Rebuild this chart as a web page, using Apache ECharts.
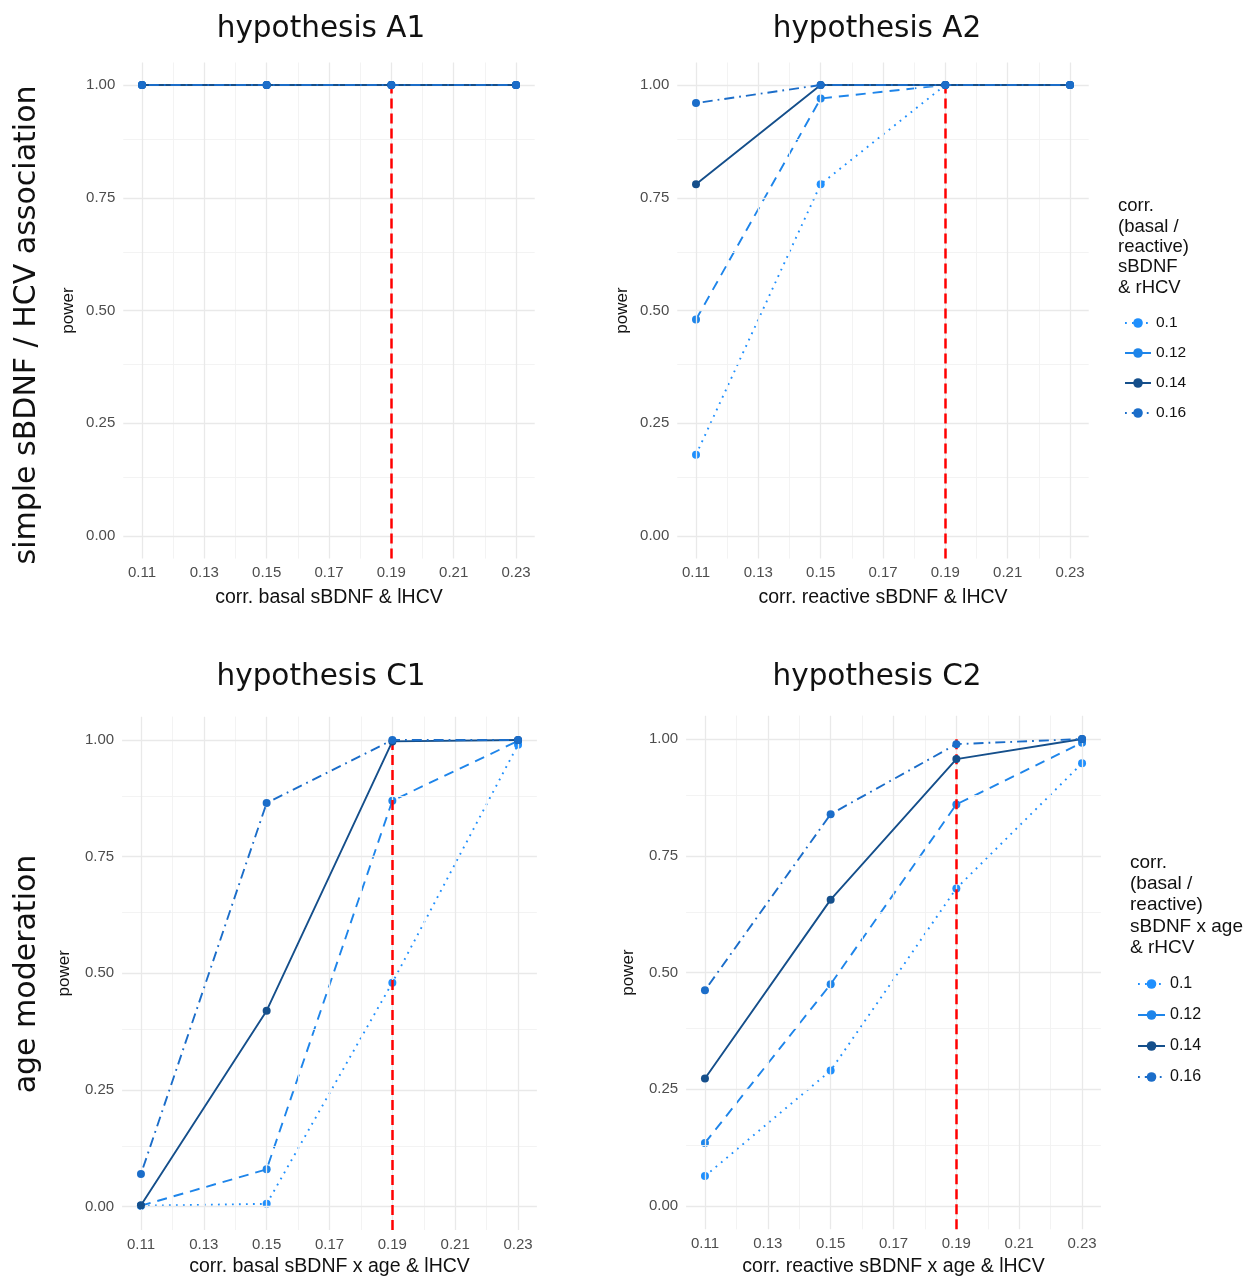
<!DOCTYPE html>
<html>
<head>
<meta charset="utf-8">
<script src="https://cdn.jsdelivr.net/npm/echarts@6/dist/echarts.min.js"></script>
<style>
html,body{margin:0;padding:0;background:#fff;}
#chart{width:1255px;height:1278px;}
</style>
</head>
<body>
<div id="chart"></div>
<script>
// ---------- data ----------
const xTicks = [0.11, 0.13, 0.15, 0.17, 0.19, 0.21, 0.23];
const xMinor = [0.12, 0.14, 0.16, 0.18, 0.20, 0.22];
const yTicks = [0, 0.25, 0.5, 0.75, 1];
const yMinor = [0.125, 0.375, 0.625, 0.875];
const xVals = [0.11, 0.15, 0.19, 0.23];
const seriesNames = ['0.1', '0.12', '0.14', '0.16'];
const thresholdX = 0.19;

const a1_p10 = [1, 1, 1, 1];
const a1_p12 = [1, 1, 1, 1];
const a1_p14 = [1, 1, 1, 1];
const a1_p16 = [1, 1, 1, 1];

const a2_p10 = [0.18, 0.78, 1, 1];
const a2_p12 = [0.48, 0.97, 1, 1];
const a2_p14 = [0.78, 1, 1, 1];
const a2_p16 = [0.96, 1, 1, 1];

const c1_p10 = [0.002, 0.006, 0.48, 0.99];
const c1_p12 = [0.002, 0.08, 0.87, 0.998];
const c1_p14 = [0.003, 0.42, 0.997, 1];
const c1_p16 = [0.07, 0.865, 1, 1];

const c2_p10 = [0.064, 0.29, 0.68, 0.948];
const c2_p12 = [0.135, 0.475, 0.86, 0.992];
const c2_p14 = [0.273, 0.656, 0.957, 1];
const c2_p16 = [0.462, 0.839, 0.989, 1];

const titles = ['hypothesis A1', 'hypothesis A2', 'hypothesis C1', 'hypothesis C2'];
const xNames = ['corr. basal sBDNF & lHCV', 'corr. reactive sBDNF & lHCV',
                'corr. basal sBDNF x age & lHCV', 'corr. reactive sBDNF x age & lHCV'];
const yName = 'power';
const rowLabels = ['simple sBDNF / HCV association', 'age moderation'];
const legendTitleTop = ['corr.', '(basal /', 'reactive)', 'sBDNF', '& rHCV'];
const legendTitleBottom = ['corr.', '(basal /', 'reactive)', 'sBDNF x age', '& rHCV'];

const panelData = [
  [a1_p10, a1_p12, a1_p14, a1_p16],
  [a2_p10, a2_p12, a2_p14, a2_p16],
  [c1_p10, c1_p12, c1_p14, c1_p16],
  [c2_p10, c2_p12, c2_p14, c2_p16]
];

// ---------- styles ----------
const colors = ['#1f8ffd', '#1e85ea', '#154f8b', '#1b6dc9'];
const dashes = [[1.8, 5.2], [10, 7], 'solid', [1.8, 5, 10, 5]];

const grids = [
  {left: 123.3, top: 62.45, width: 411.4, height: 496.1},
  {left: 677.3, top: 62.45, width: 411.4, height: 496.1},
  {left: 122.1, top: 716.65, width: 414.8, height: 513.7},
  {left: 686.1, top: 715.65, width: 414.8, height: 513.7}
];

const xAxes = [], yAxes = [], series = [];
const tickFmt = v => Number(v).toFixed(2);

grids.forEach((g, i) => {
  xAxes.push({
    type: 'value', gridIndex: i, min: 0.104, max: 0.236,
    axisLine: {show: false}, axisTick: {show: false}, splitLine: {show: false},
    axisLabel: {customValues: xTicks, formatter: tickFmt, color: '#4d4d4d',
                fontSize: 15, fontFamily: 'Liberation Sans', margin: 7},
    name: xNames[i], nameLocation: 'middle', nameGap: i < 2 ? 29 : 27,
    nameTextStyle: {fontSize: 19.5, color: '#111', fontFamily: 'Liberation Sans'}
  });
  yAxes.push({
    type: 'value', gridIndex: i, min: -0.05, max: 1.05,
    axisLine: {show: false}, axisTick: {show: false}, splitLine: {show: false},
    axisLabel: {customValues: yTicks, formatter: tickFmt, color: '#4d4d4d',
                fontSize: 15, fontFamily: 'Liberation Sans', margin: 8},
    name: yName, nameLocation: 'middle', nameGap: i < 2 ? 46 : 49,
    nameTextStyle: {fontSize: 17, color: '#111', fontFamily: 'Liberation Sans'}
  });
  // grid lines
  const major = {color: '#e9e9e9', width: 1.3, type: 'solid'};
  const minor = {color: '#f2f2f2', width: 0.9, type: 'solid'};
  series.push({
    type: 'line', xAxisIndex: i, yAxisIndex: i, data: [], silent: true, z: 0,
    markLine: {
      silent: true, symbol: 'none', animation: false, label: {show: false},
      data: []
        .concat(xMinor.map(v => ({xAxis: v, lineStyle: minor})))
        .concat(yMinor.map(v => ({yAxis: v, lineStyle: minor})))
        .concat(xTicks.map(v => ({xAxis: v, lineStyle: major})))
        .concat(yTicks.map(v => ({yAxis: v, lineStyle: major})))
    }
  });
  // data series
  panelData[i].forEach((vals, k) => {
    series.push({
      name: seriesNames[k], type: 'line', xAxisIndex: i, yAxisIndex: i,
      data: xVals.map((x, j) => [x, vals[j]]),
      symbol: 'circle', symbolSize: 8, showSymbol: true,
      itemStyle: {color: colors[k]},
      lineStyle: {color: colors[k], width: 1.9, type: dashes[k]},
      animation: false, z: 3 + k
    });
  });
  // red threshold segment
  series.push({
    type: 'line', xAxisIndex: i, yAxisIndex: i, data: [], silent: true, z: 10,
    markLine: {
      silent: true, symbol: 'none', animation: false, label: {show: false},
      lineStyle: {color: '#ff0000', width: 2.5, type: [10, 5]},
      data: [[{coord: [thresholdX, -0.05]}, {coord: [thresholdX, 1]}]]
    }
  });
});

const titleGraphics = [];
const titlePos = [[321, 29], [877, 29], [321, 677], [877, 677]];
titles.forEach((t, i) => {
  titleGraphics.push({type: 'text', x: titlePos[i][0], y: titlePos[i][1],
    style: {text: t, fontSize: 29.5, fontFamily: 'DejaVu Sans', fill: '#111',
            textAlign: 'center', textVerticalAlign: 'middle'}});
});
const rowPos = [[27, 325], [27, 974]];
rowLabels.forEach((t, i) => {
  titleGraphics.push({type: 'text', x: rowPos[i][0], y: rowPos[i][1], rotation: Math.PI / 2,
    style: {text: t, fontSize: 30, fontFamily: 'DejaVu Sans', fill: '#111',
            textAlign: 'center', textVerticalAlign: 'middle'}});
});
titleGraphics.push({type: 'text', x: 1118, y: 196,
  style: {text: legendTitleTop.join('\n'), fontSize: 18.5, lineHeight: 20.4,
          fontFamily: 'Liberation Sans', fill: '#111', textAlign: 'left', textVerticalAlign: 'top'}});
titleGraphics.push({type: 'text', x: 1130, y: 852,
  style: {text: legendTitleBottom.join('\n'), fontSize: 19, lineHeight: 21.3,
          fontFamily: 'Liberation Sans', fill: '#111', textAlign: 'left', textVerticalAlign: 'top'}});

const chart = echarts.init(document.getElementById('chart'), null, {renderer: 'canvas'});
chart.setOption({
  backgroundColor: '#ffffff',
  animation: false,
  grid: grids,
  xAxis: xAxes,
  yAxis: yAxes,
  legend: [
    {data: seriesNames, orient: 'vertical', left: 1119, top: 310, itemWidth: 26, itemHeight: 12,
     itemGap: 14, selectedMode: false,
     textStyle: {fontSize: 15.5, color: '#111', fontFamily: 'Liberation Sans'}},
    {data: seriesNames, orient: 'vertical', left: 1132, top: 971, itemWidth: 27, itemHeight: 12,
     itemGap: 15, selectedMode: false,
     textStyle: {fontSize: 16, color: '#111', fontFamily: 'Liberation Sans'}}
  ],
  graphic: titleGraphics,
  series: series
});
</script>
</body>
</html>
